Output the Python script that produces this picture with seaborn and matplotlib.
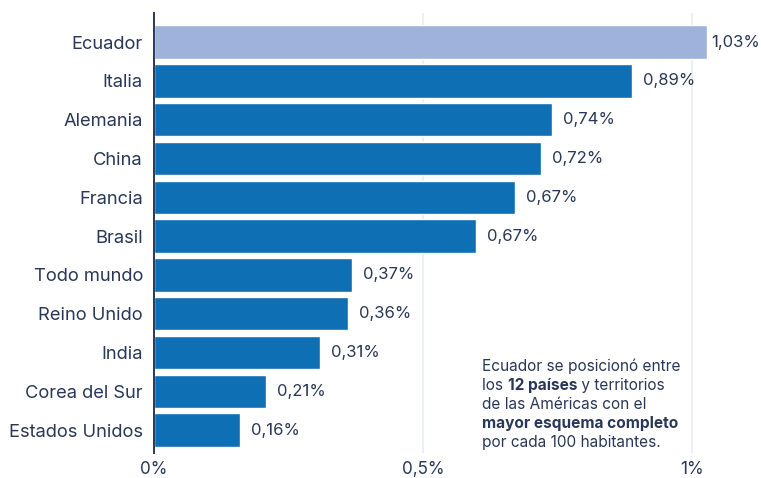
import matplotlib
matplotlib.use("Agg")
import matplotlib.pyplot as plt
import matplotlib.transforms as mtransforms
import seaborn as sns

# data
countries = ["Ecuador", "Italia", "Alemania", "China", "Francia", "Brasil",
             "Todo mundo", "Reino Unido", "India", "Corea del Sur", "Estados Unidos"]
values = [1.027, 0.888, 0.739, 0.719, 0.671, 0.598, 0.368, 0.361, 0.309, 0.208, 0.160]
value_labels = ["1,03%", "0,89%", "0,74%", "0,72%", "0,67%", "0,67%",
                "0,37%", "0,36%", "0,31%", "0,21%", "0,16%"]
xticks = [0, 0.5, 1]
xtick_labels = ["0%", "0,5%", "1%"]

TEXT = "#293858"
BLUE = "#0f6fb5"
LIGHT = "#9eb2dc"

sns.set_theme(style="white")
plt.rcParams["font.family"] = ["Inter", "DejaVu Sans"]

fig = plt.figure(figsize=(7.61, 4.78), dpi=100)
ax = fig.add_axes([154 / 761, 1 - 453 / 478, (746 - 154) / 761, (453 - 13) / 478])

colors = [LIGHT] + [BLUE] * (len(countries) - 1)
sns.barplot(x=values, y=countries, hue=countries, palette=colors, legend=False,
            orient="h", width=0.86, saturation=1, ax=ax)

ax.set_xlim(0, 1.1)
ax.set_ylim(10.59, -0.75)
ax.set_xticks(xticks)
ax.set_xticklabels(xtick_labels)
ax.grid(axis="x", color="#e9edf5", lw=1.2)
ax.set_axisbelow(True)
ax.tick_params(axis="x", length=0, pad=5.5, labelsize=12.3, labelcolor=TEXT)
ax.tick_params(axis="y", length=0, pad=8, labelsize=13.2, labelcolor=TEXT)
ax.set_xlabel("")
ax.set_ylabel("")
for s in ["top", "right", "bottom"]:
    ax.spines[s].set_visible(False)
ax.spines["left"].set_color(TEXT)
ax.spines["left"].set_linewidth(1.4)

# value labels
for i, (v, lab) in enumerate(zip(values, value_labels)):
    pad = 3.5 if i == 0 else 8
    ax.annotate(lab, (v, i), xytext=(pad, 0), textcoords="offset points",
                ha="left", va="center", fontsize=12, color=TEXT)

# note with bold fragments
note = [
    [("Ecuador se posicionó entre", "normal")],
    [("los ", "normal"), ("12 países", "bold"), (" y territorios", "normal")],
    [("de las Américas con el", "normal")],
    [("mayor esquema completo", "bold")],
    [("por cada 100 habitantes.", "normal")],
]
fig.canvas.draw()
renderer = fig.canvas.get_renderer()
x0 = 482.5 / 761
for k, line in enumerate(note):
    y = 1 - (370.5 + k * 19.2) / 478
    trans = fig.transFigure
    for txt, w in line:
        t = fig.text(x0, y, txt, transform=trans, fontsize=11.1, color=TEXT,
                     fontweight=w, ha="left", va="baseline")
        t.draw(renderer)
        ex = t.get_window_extent(renderer)
        trans = mtransforms.offset_copy(t.get_transform(), fig=fig, x=ex.width, units="dots")

fig.savefig("out.png", dpi=100)
